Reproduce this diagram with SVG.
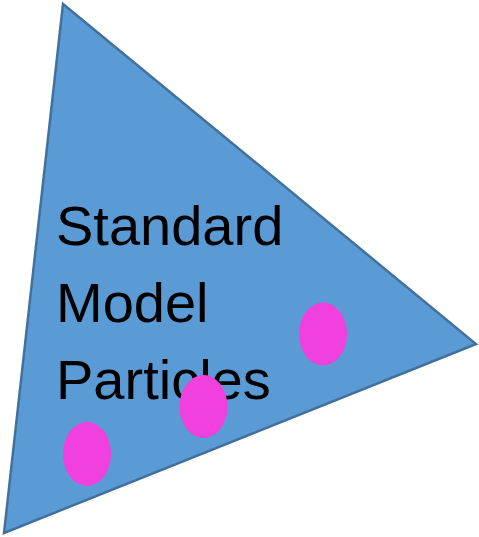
<svg xmlns="http://www.w3.org/2000/svg" width="479" height="537" viewBox="0 0 479 537">
  <style>
    .tri { fill: #5B9BD5; stroke: #41719C; stroke-width: 2.5; stroke-linejoin: miter; }
    .dot { fill: #F040DE; }
    .label { font-family: "Liberation Sans", Arial, sans-serif; font-size: 56px; fill: #000000; }
  </style>
  <g id="triangle">
    <polygon class="tri" points="63,4 476,344 4,533"/>
    <text class="label" x="56" y="245">Standard</text>
    <text class="label" x="56" y="322">Model</text>
    <text class="label" x="56" y="399">Particles</text>
  </g>
  <g id="particles">
    <ellipse class="dot" cx="323" cy="334" rx="24" ry="31.5"/>
    <ellipse class="dot" cx="203.5" cy="406.5" rx="24" ry="31.5"/>
    <ellipse class="dot" cx="87" cy="454" rx="24" ry="32"/>
  </g>
</svg>
